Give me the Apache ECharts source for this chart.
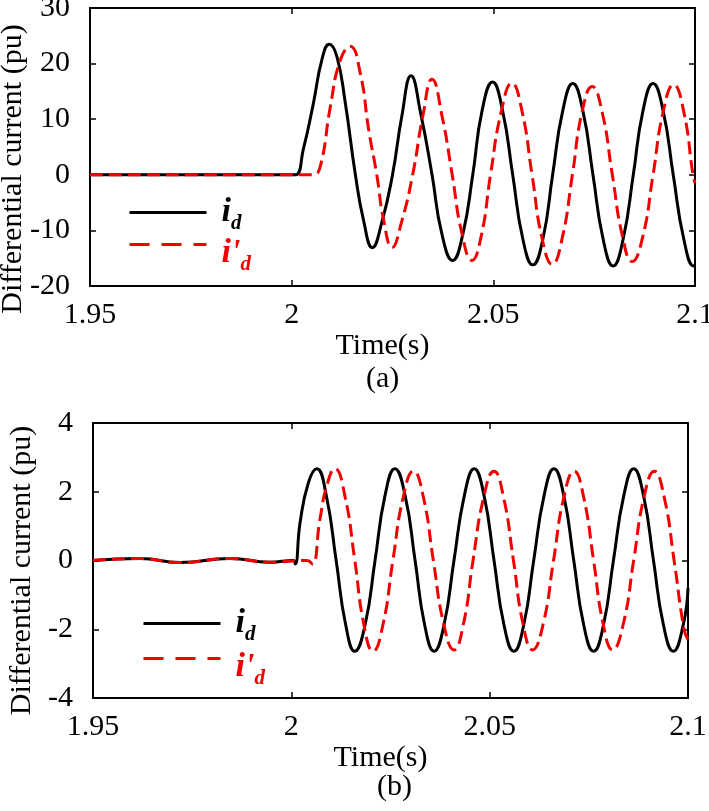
<!DOCTYPE html>
<html>
<head>
<meta charset="utf-8">
<script src="https://cdn.jsdelivr.net/npm/echarts@6/dist/echarts.min.js"></script>
<style>
html,body{margin:0;padding:0;background:#fff;}
#chart{width:709px;height:811px;}
</style>
</head>
<body>
<div id="chart"></div>
<script>
// ---------- Data ----------
const xTicks = [1.95, 2, 2.05, 2.1];
const yTicksA = [-20, -10, 0, 10, 20, 30];
const yTicksB = [-4, -2, 0, 2, 4];

// Panel (a): i_d (black)
const timeA1 = [1.950, 1.990, 1.999, 2.001, 2.0029, 2.0054, 2.0075, 2.0093, 2.0112, 2.0133, 2.0158, 2.0178, 2.0200, 2.0223, 2.0250, 2.0273, 2.0296, 2.0320, 2.0348, 2.0372, 2.0399, 2.0424, 2.0449, 2.0472, 2.0498, 2.0523, 2.0548, 2.0573, 2.0598, 2.0623, 2.0647, 2.0672, 2.0697, 2.0722, 2.0747, 2.0772, 2.0797, 2.0822, 2.0847, 2.0871, 2.0896, 2.0921, 2.0946, 2.0972, 2.0997, 2.1000];
const idA = [0, 0, 0, 0, 4.6, 12.9, 20.7, 23.5, 21.3, 12.9, 0, -8.1, -13.1, -8.7, 0, 10.5, 17.8, 11.0, 0, -10.5, -15.4, -10.8, 0, 11.5, 16.7, 11.5, 0, -11.5, -16.2, -11.5, 0, 11.5, 16.4, 11.5, 0, -11.5, -16.4, -11.5, 0, 11.5, 16.4, 11.5, 0, -11.5, -16.4, -16.3];

// Panel (a): i'_d (red dashed)
const timeA2 = [1.950, 1.995, 2.003, 2.0054, 2.0071, 2.0096, 2.0120, 2.0145, 2.0170, 2.0191, 2.0211, 2.0228, 2.0249, 2.0272, 2.0300, 2.0325, 2.0348, 2.0373, 2.0398, 2.0422, 2.0447, 2.0470, 2.0493, 2.0520, 2.0546, 2.0571, 2.0596, 2.0621, 2.0646, 2.0671, 2.0696, 2.0720, 2.0745, 2.0770, 2.0795, 2.0820, 2.0844, 2.0870, 2.0896, 2.0921, 2.0947, 2.0972, 2.0995, 2.1000];
const idPA = [0, 0, 0, 0, 1.5, 12.3, 20.5, 23.1, 18.3, 8.1, 0, -8.1, -13.1, -8.6, 0, 10.5, 17.2, 10.5, 0, -10.5, -15.4, -11.0, 0, 11.5, 16.5, 11.5, 0, -11.5, -16.1, -11.3, 0, 11.3, 15.9, 11.2, 0, -11.0, -15.6, -11.3, 0, 11.3, 16.2, 11.4, 0, -1.5];

// Panel (b): i_d (black)
const timeB1 = [1.950, 1.9618, 1.9719, 1.9845, 1.9946, 2.0005, 2.0010, 2.0022, 2.0043, 2.0064, 2.0088, 2.0113, 2.0137, 2.0160, 2.0186, 2.0211, 2.0236, 2.0261, 2.0287, 2.0312, 2.0336, 2.0360, 2.0385, 2.0410, 2.0436, 2.0461, 2.0486, 2.0511, 2.0536, 2.0561, 2.0586, 2.0611, 2.0637, 2.0662, 2.0687, 2.0712, 2.0737, 2.0762, 2.0787, 2.0812, 2.0838, 2.0863, 2.0888, 2.0913, 2.0938, 2.0963, 2.0988, 2.1000];
const idB = [0, 0.06, -0.06, 0.06, -0.05, 0, -0.1, 1.1, 2.26, 2.67, 1.9, 0, -1.87, -2.64, -1.87, 0, 1.88, 2.67, 1.88, 0, -1.87, -2.64, -1.87, 0, 1.88, 2.67, 1.88, 0, -1.87, -2.64, -1.87, 0, 1.88, 2.67, 1.88, 0, -1.87, -2.64, -1.87, 0, 1.88, 2.67, 1.88, 0, -1.87, -2.64, -1.87, -0.8];

// Panel (b): i'_d (red dashed)
const timeB2 = [1.950, 1.9618, 1.9719, 1.9845, 1.9946, 2.0040, 2.0053, 2.0072, 2.0089, 2.0110, 2.0135, 2.0160, 2.0183, 2.0206, 2.0231, 2.0256, 2.0282, 2.0308, 2.0333, 2.0358, 2.0384, 2.0410, 2.0434, 2.0458, 2.0485, 2.0511, 2.0535, 2.0560, 2.0584, 2.0608, 2.0635, 2.0661, 2.0687, 2.0713, 2.0737, 2.0762, 2.0786, 2.0810, 2.0837, 2.0863, 2.0889, 2.0915, 2.0940, 2.0965, 2.0990, 2.1000];
const idPB = [0, 0.06, -0.06, 0.06, -0.05, 0, -0.1, 1.19, 2.16, 2.67, 1.88, 0, -1.87, -2.64, -1.87, 0, 1.84, 2.6, 1.84, 0, -1.84, -2.6, -1.84, 0, 1.84, 2.6, 1.84, 0, -1.84, -2.6, -1.84, 0, 1.84, 2.6, 1.84, 0, -1.84, -2.6, -1.84, 0, 1.84, 2.6, 1.84, 0, -2.0, -2.3];

const seriesNames = ['i_d', "i'_d"];
const panelLabels = ['(a)', '(b)'];
const yAxisName = 'Differential current (pu)';
const xAxisName = 'Time(s)';

// ---------- Chart ----------
const FONT = '"Liberation Serif", "Times New Roman", serif';
const RED = '#f20000';
const zip = (t, v) => t.map((x, i) => [x, v[i]]);
const fmtX = v => String(+v.toFixed(2));

function xAxes(g, nameGap) {
  return [
    {
      gridIndex: g, type: 'value', min: xTicks[0], max: xTicks[xTicks.length - 1], interval: 0.05,
      axisLine: {onZero: false, lineStyle: {color: '#000', width: 2}},
      axisTick: {inside: true, length: 6, lineStyle: {color: '#000', width: 1.5}},
      axisLabel: {color: '#000', fontSize: 30, fontFamily: FONT, margin: 14, formatter: fmtX, showMaxLabel: true, showMinLabel: true},
      splitLine: {show: false},
      name: xAxisName, nameLocation: 'middle', nameGap: nameGap,
      nameTextStyle: {color: '#000', fontSize: 30, fontFamily: FONT, padding: [0, 20, 0, 0]}
    },
    {
      gridIndex: g, type: 'value', position: 'top', min: xTicks[0], max: xTicks[xTicks.length - 1], interval: 0.05,
      axisLine: {onZero: false, lineStyle: {color: '#000', width: 2}},
      axisTick: {inside: true, length: 6, lineStyle: {color: '#000', width: 1.5}},
      axisLabel: {show: false}, splitLine: {show: false}
    }
  ];
}
function yAxes(g, ticks, nameGap, pad) {
  return [
    {
      gridIndex: g, type: 'value', min: ticks[0], max: ticks[ticks.length - 1], interval: ticks[1] - ticks[0],
      axisLine: {onZero: false, lineStyle: {color: '#000', width: 2}},
      axisTick: {inside: true, length: 6, lineStyle: {color: '#000', width: 1.5}},
      axisLabel: {color: '#000', fontSize: 30, fontFamily: FONT, margin: 20},
      splitLine: {show: false},
      name: yAxisName, nameLocation: 'middle', nameGap: nameGap, nameRotate: 90, nameMoveOverlap: false,
      nameTextStyle: {color: '#000', fontSize: 30, fontFamily: FONT, padding: pad}
    },
    {
      gridIndex: g, type: 'value', position: 'right', min: ticks[0], max: ticks[ticks.length - 1], interval: ticks[1] - ticks[0],
      axisLine: {onZero: false, lineStyle: {color: '#000', width: 2}},
      axisTick: {inside: true, length: 6, lineStyle: {color: '#000', width: 1.5}},
      axisLabel: {show: false}, splitLine: {show: false}
    }
  ];
}

const rich = (color, shift) => ({
  i: {fontSize: 34, fontWeight: 'bold', fontStyle: 'italic', fontFamily: FONT, color: color, lineHeight: 30, padding: [shift, 0, 0, 0]},
  d: {fontSize: 21, fontWeight: 'bold', fontStyle: 'italic', fontFamily: FONT, color: color, lineHeight: 20, padding: [22 + shift, 0, 0, 0]}
});
function legendItem(name, left, top, color, dash, shift) {
  return {
    left: left, top: top, orient: 'vertical', itemWidth: 77, itemHeight: 14, itemGap: 0,
    selectedMode: false, padding: 0,
    data: [{name: name, lineStyle: {type: dash}, itemStyle: {opacity: 0, color: 'rgba(0,0,0,0)', borderWidth: 0}}],
    lineStyle: {width: 3},
    itemStyle: {opacity: 0},
    formatter: n => n === seriesNames[0] ? '{i|i}{d|d}' : "{i|i'}{d|d}",
    textStyle: {padding: [0, 0, 0, 10], rich: rich(color, shift)}
  };
}

const option = {
  backgroundColor: '#fff',
  animation: false,
  grid: [
    {left: 90, right: 14, top: 8, height: 278, outerBoundsMode: 'none', containLabel: false},
    {left: 93, right: 21, top: 423, height: 275, outerBoundsMode: 'none', containLabel: false}
  ],
  xAxis: [...xAxes(0, 36), ...xAxes(1, 36)],
  yAxis: [...yAxes(0, yTicksA, 62, [0, 44, 0, 0]), ...yAxes(1, yTicksB, 56, [0, 20, 0, 0])],
  legend: [
    legendItem(seriesNames[0], 128, 191, '#000', 'solid', 0),
    legendItem(seriesNames[1], 128, 214, RED, [20, 12], 18),
    legendItem(seriesNames[0], 142, 602, '#000', 'solid', 0),
    legendItem(seriesNames[1], 142, 628, RED, [20, 12], 18)
  ],
  graphic: [
    {type: 'text', left: 366, top: 364, style: {text: panelLabels[0], font: '30px ' + FONT, fill: '#000'}},
    {type: 'text', left: 377, top: 772, style: {text: panelLabels[1], font: '30px ' + FONT, fill: '#000'}}
  ],
  series: [
    {name: seriesNames[0], type: 'line', xAxisIndex: 0, yAxisIndex: 0, data: zip(timeA1, idA), symbol: 'none', smooth: 0.5, z: 3,
      lineStyle: {color: '#000', width: 3}, itemStyle: {color: '#000'}},
    {name: seriesNames[1], type: 'line', xAxisIndex: 0, yAxisIndex: 0, data: zip(timeA2, idPA), symbol: 'none', smooth: 0.5, z: 4,
      lineStyle: {color: RED, width: 3, type: [13, 6]}, itemStyle: {color: RED}},
    {name: seriesNames[0], type: 'line', xAxisIndex: 2, yAxisIndex: 2, data: zip(timeB1, idB), symbol: 'none', smooth: 0.5, z: 3,
      lineStyle: {color: '#000', width: 3}, itemStyle: {color: '#000'}},
    {name: seriesNames[1], type: 'line', xAxisIndex: 2, yAxisIndex: 2, data: zip(timeB2, idPB), symbol: 'none', smooth: 0.5, z: 4,
      lineStyle: {color: RED, width: 3, type: [13, 6]}, itemStyle: {color: RED}}
  ]
};
const chart = echarts.init(document.getElementById('chart'), null, {renderer: 'canvas'});
chart.setOption(option);
</script>
</body>
</html>
